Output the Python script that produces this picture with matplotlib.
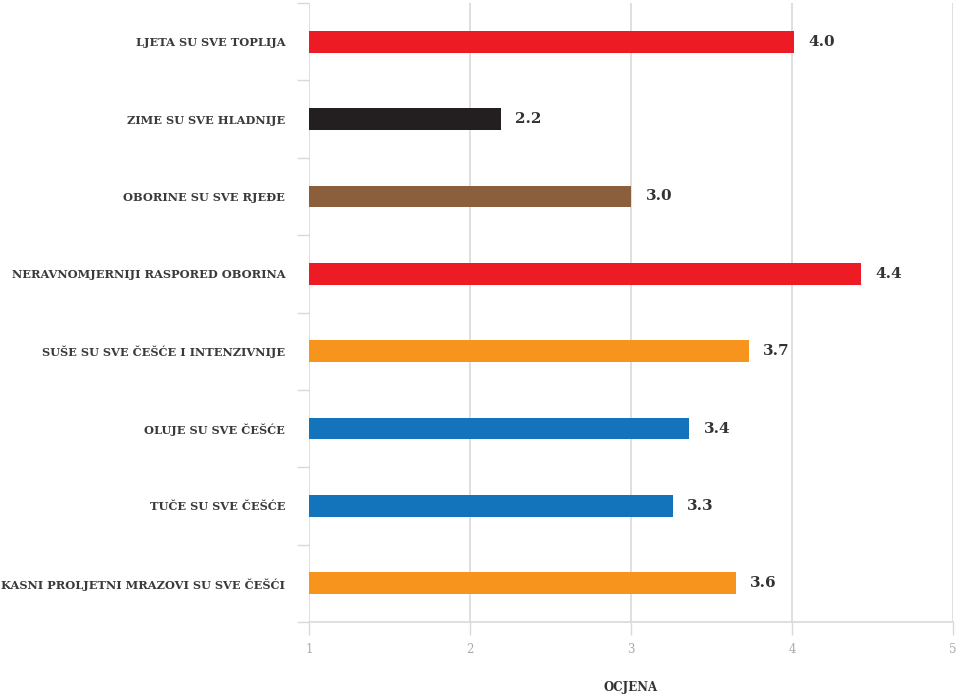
import numpy as np
import matplotlib.pyplot as plt

categories = ['LJETA SU SVE TOPLIJA', 'ZIME SU SVE HLADNIJE', 'OBORINE SU SVE RJEĐE',
              'NERAVNOMJERNIJI RASPORED OBORINA', 'SUŠE SU SVE ČEŠĆE I INTENZIVNIJE',
              'OLUJE SU SVE ČEŠĆE', 'TUČE SU SVE ČEŠĆE', 'KASNI PROLJETNI MRAZOVI SU SVE ČEŠĆI']
values = [4.01, 2.19, 3.0, 4.43, 3.73, 3.36, 3.26, 3.65]
colors = ['#ED1C24', '#231F20', '#8B5E3C', '#ED1C24', '#F7941D', '#1474BB', '#1474BB', '#F7941D']

plt.rcParams['font.family'] = ['DejaVu Serif']

fig = plt.figure(figsize=(9.58, 6.96), dpi=100)
ax = fig.add_axes([0.3225, 0.1063, 0.6723, 0.8894])

y = np.arange(len(categories))
ax.barh(y, [v - 1 for v in values], left=1, height=0.28, color=colors, zorder=3)

for yi, v in zip(y, values):
    ax.text(v + 0.09, yi, f'{v:.1f}', va='center', ha='left', fontsize=11,
            fontweight='bold', color='#333333')

ax.set_xlim(1, 5)
ax.set_ylim(len(categories) - 0.5, -0.5)
ax.set_xticks([1, 2, 3, 4, 5])
ax.set_xticklabels(['1', '2', '3', '4', '5'], fontsize=8.5, color='#aaaaaa')
ax.set_yticks(y)
ax.set_yticklabels(categories, fontsize=8.2, color='#3a3a3a', fontweight='bold')
ax.set_yticks(np.arange(len(categories) + 1) - 0.5, minor=True)
ax.tick_params(axis='y', which='major', length=0, pad=17)
ax.tick_params(axis='y', which='minor', length=9, color='#d9d9d9', width=1)
ax.tick_params(axis='x', length=9, color='#d9d9d9', width=1, pad=6)

ax.grid(axis='x', color='#d9d9d9', linewidth=1.2, zorder=0)
for s in ['top', 'right', 'left']:
    ax.spines[s].set_visible(False)
ax.spines['bottom'].set_color('#d9d9d9')
ax.spines['bottom'].set_linewidth(1.2)

ax.set_xlabel('OCJENA', fontsize=8.5, color='#333333', fontweight='bold', labelpad=18)

fig.savefig('out.png', dpi=100)
